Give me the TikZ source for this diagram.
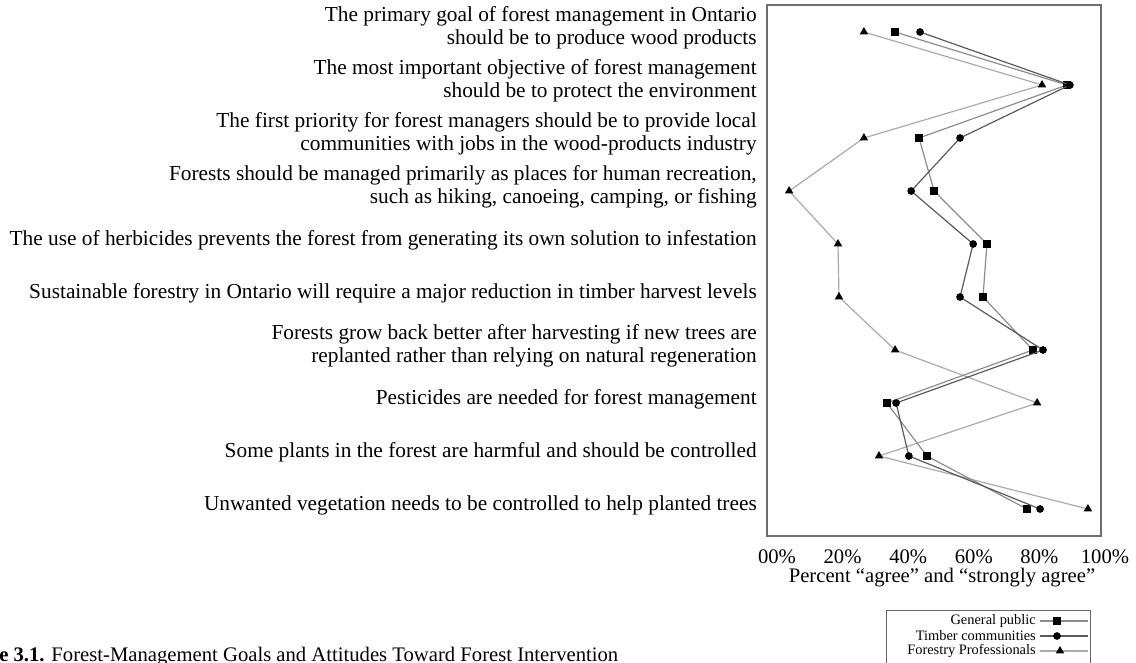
\documentclass[tikz,border=0pt]{standalone}
\usepackage{fontspec}
\setmainfont{Liberation Serif}
\usetikzlibrary{plotmarks}
\definecolor{publicgray}{RGB}{140,140,140}
\definecolor{timbergray}{RGB}{90,90,90}
\definecolor{forestgray}{RGB}{170,170,170}
\definecolor{framegray}{RGB}{110,110,110}

\begin{document}
\begin{tikzpicture}[x=0.75pt,y=-0.75pt,
  stmt/.style={anchor=east,align=right,inner sep=0pt,font=\fontsize{16}{17.5}\selectfont},
  tick/.style={inner sep=0pt,font=\fontsize{15.5}{17}\selectfont},
  keytext/.style={anchor=east,inner sep=0pt,font=\fontsize{10.8}{12}\selectfont},
  publicline/.style={draw=publicgray,line width=0.9pt,mark=square*,mark size=2.7pt,mark options={draw=black,fill=black}},
  timberline/.style={draw=timbergray,line width=0.9pt,mark=*,mark size=2.4pt,mark options={draw=black,fill=black}},
  forestline/.style={draw=forestgray,line width=0.9pt,mark=triangle*,mark size=2.8pt,mark options={draw=black,fill=black}}]

  \useasboundingbox (0,0) rectangle (1136,663);

  % statements
  \node[stmt] (goal) at (757,28) {The primary goal of forest management in Ontario\\should be to produce wood products};
  \node[stmt] (envir) at (757,81) {The most important objective of forest management\\should be to protect the environment};
  \node[stmt] (jobs) at (757,134) {The first priority for forest managers should be to provide local\\communities with jobs in the wood-products industry};
  \node[stmt] (recr) at (757,187) {Forests should be managed primarily as places for human recreation,\\such as hiking, canoeing, camping, or fishing};
  \node[stmt] (herb) at (757,240) {The use of herbicides prevents the forest from generating its own solution to infestation};
  \node[stmt] (harv) at (757,293) {Sustainable forestry in Ontario will require a major reduction in timber harvest levels};
  \node[stmt] (repl) at (757,346) {Forests grow back better after harvesting if new trees are\\replanted rather than relying on natural regeneration};
  \node[stmt] (pest) at (757,399) {Pesticides are needed for forest management};
  \node[stmt] (harm) at (757,452) {Some plants in the forest are harmful and should be controlled};
  \node[stmt] (veg) at (757,505) {Unwanted vegetation needs to be controlled to help planted trees};

  % frame
  \draw[framegray,line width=0.8pt] (767,5) rectangle (1101,536);

  \begin{scope}[shift={(777,0)},x=2.46pt]
    \draw[forestline] plot coordinates {(26.5,32) (80.8,85) (26.5,138) (3.7,191) (18.6,244)
      (18.9,297) (36,350) (79.3,403) (31.1,456) (94.8,509)};
    \draw[publicline] plot coordinates {(36,32) (88.4,85) (43.3,138) (47.9,191) (64,244)
      (62.8,297) (78,350) (33.5,403) (45.7,456) (76.2,509)};
    \draw[timberline] plot coordinates {(43.6,32) (89.3,85) (55.8,138) (40.9,191) (59.8,244)
      (55.8,297) (81.1,350) (36.3,403) (40.2,456) (80.2,509)};

    % axis
    \node[tick] (t0) at (0,557) {00\%};
    \node[tick] (t20) at (20,557) {20\%};
    \node[tick] (t40) at (40,557) {40\%};
    \node[tick] (t60) at (60,557) {60\%};
    \node[tick] (t80) at (80,557) {80\%};
    \node[tick] (t100) at (100,557) {100\%};
  \end{scope}
  \node[tick] (xlab) at (942,578) {Percent “agree” and “strongly agree”};

  % legend
  \draw[black!60,line width=0.6pt] (886,670) -- (886,610) -- (1090,610) -- (1090,670);
  \node[keytext] (kpub) at (1036,621) {General public};
  \node[keytext] (ktim) at (1036,636) {Timber communities};
  \node[keytext] (kfor) at (1036,651) {Forestry Professionals};
  \draw[publicline] (1040,621) -- (1088,621);
  \draw[timberline] (1040,636) -- (1088,636);
  \draw[forestline] (1040,651) -- (1088,651);
  \draw[publicline] plot coordinates {(1057,621)};
  \draw[timberline] plot coordinates {(1057,636)};
  \draw[forestline] plot coordinates {(1060,651)};

  % caption
  \node[anchor=base west,inner sep=0pt,font=\fontsize{15.5}{17}\selectfont] (capt) at (-1,661)
    {\textbf{e 3.1.} Forest-Management Goals and Attitudes Toward Forest Intervention};

\end{tikzpicture}
\end{document}
